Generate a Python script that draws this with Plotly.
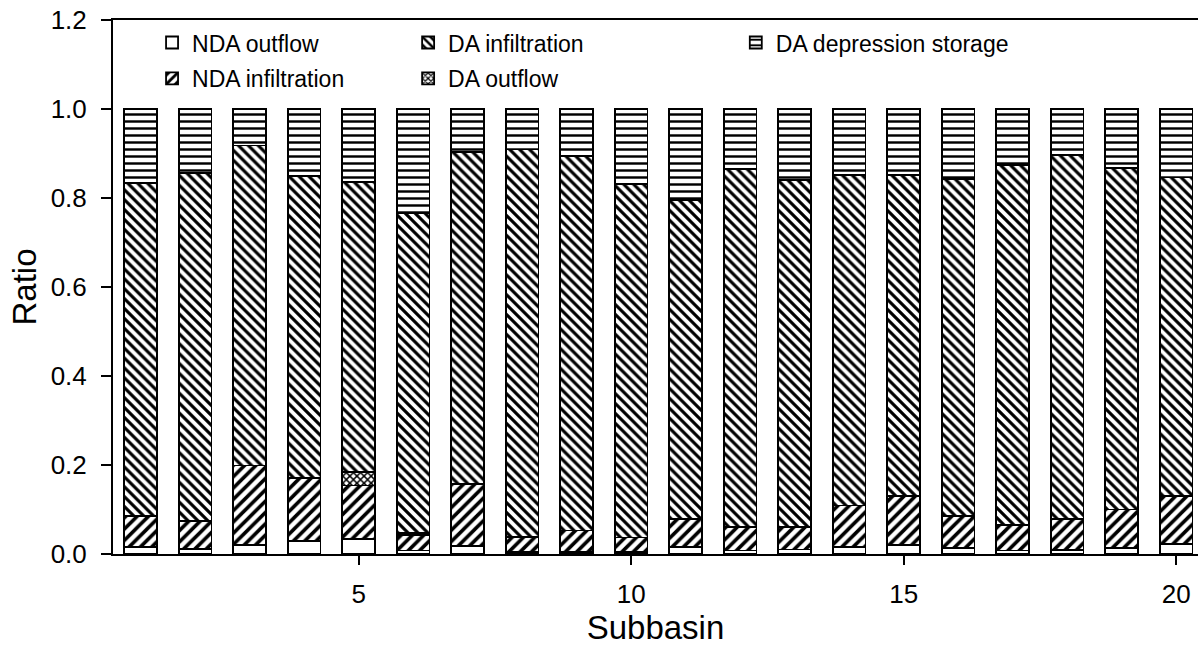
import plotly.graph_objects as go

subbasins = list(range(1, 21))
nda_outflow = [0.015, 0.011, 0.020, 0.029, 0.034, 0.008, 0.018, 0.005, 0.004, 0.005,
               0.016, 0.008, 0.010, 0.016, 0.021, 0.014, 0.008, 0.009, 0.014, 0.023]
nda_infiltration = [0.070, 0.063, 0.179, 0.141, 0.120, 0.034, 0.139, 0.034, 0.049, 0.032,
                    0.062, 0.053, 0.050, 0.093, 0.110, 0.071, 0.057, 0.069, 0.086, 0.108]
da_outflow = [0.0, 0.0, 0.0, 0.0, 0.030, 0.006, 0.0, 0.0, 0.0, 0.0,
              0.0, 0.0, 0.0, 0.0, 0.0, 0.0, 0.0, 0.0, 0.0, 0.0]
da_infiltration = [0.749, 0.783, 0.719, 0.679, 0.652, 0.718, 0.746, 0.870, 0.841, 0.794,
                   0.717, 0.805, 0.780, 0.742, 0.721, 0.757, 0.809, 0.818, 0.768, 0.715]
da_storage = [0.166, 0.143, 0.082, 0.151, 0.164, 0.234, 0.097, 0.091, 0.106, 0.169,
              0.205, 0.134, 0.160, 0.149, 0.148, 0.158, 0.126, 0.104, 0.132, 0.154]
x_ticks = [5, 10, 15, 20]
y_ticks = [0.0, 0.2, 0.4, 0.6, 0.8, 1.0, 1.2]

FONT = "Arial, Liberation Sans, sans-serif"

series = [
    ("NDA outflow", nda_outflow, "", 8, 0.4, "legend"),
    ("NDA infiltration", nda_infiltration, "/", 8, 0.45, "legend"),
    ("DA outflow", da_outflow, "x", 5, 0.5, "legend2"),
    ("DA infiltration", da_infiltration, "\\", 7, 0.45, "legend2"),
    ("DA depression storage", da_storage, "-", 7, 0.35, "legend3"),
]

fig = go.Figure()
for name, vals, shape, size, sol, leg in series:
    fig.add_trace(go.Bar(
        x=subbasins, y=vals, name=name, width=0.6,
        legend=leg, legendgroup=name,
        marker=dict(
            color="white",
            line=dict(color="black", width=1.8),
            pattern=dict(shape=shape, fgcolor="black", bgcolor="white",
                         size=size, solidity=sol, fillmode="overlay", fgopacity=1),
        ),
    ))

ranks = {"NDA outflow": 1, "NDA infiltration": 2, "DA infiltration": 1,
         "DA outflow": 2, "DA depression storage": 1}
for tr in fig.data:
    tr.legendrank = ranks[tr.name]

legend_common = dict(
    font=dict(family=FONT, size=23, color="black"),
    bgcolor="rgba(0,0,0,0)", borderwidth=0,
    orientation="v", xanchor="left", yanchor="top",
    tracegroupgap=3, itemclick=False, itemdoubleclick=False,
)

fig.update_layout(
    width=1198, height=650,
    margin=dict(l=113, r=0, t=20, b=96),
    paper_bgcolor="white", plot_bgcolor="white",
    barmode="stack",
    font=dict(family=FONT, color="black"),
    showlegend=True,
    legend=dict(x=0.036, y=0.998, **legend_common),
    legend2=dict(x=0.272, y=0.998, **legend_common),
    legend3=dict(x=0.574, y=0.998, **legend_common),
    xaxis=dict(
        range=[0.492, 20.40],
        tickmode="array", tickvals=x_ticks, ticktext=[str(v) for v in x_ticks],
        ticks="outside", ticklen=9, tickwidth=2, tickcolor="black",
        ticklabelstandoff=7,
        showline=True, linecolor="black", linewidth=2, mirror=True,
        showgrid=False, zeroline=False,
        tickfont=dict(family=FONT, size=26, color="black"),
        title=dict(text="Subbasin", font=dict(family=FONT, size=33, color="black"), standoff=8),
    ),
    yaxis=dict(
        range=[0, 1.2],
        tickmode="array", tickvals=y_ticks, ticktext=[f"{v:.1f}" for v in y_ticks],
        ticks="outside", ticklen=10, tickwidth=2, tickcolor="black",
        ticklabelstandoff=9,
        showline=True, linecolor="black", linewidth=2, mirror=False,
        showgrid=False, zeroline=False,
        tickfont=dict(family=FONT, size=26, color="black"),
        title=dict(text="Ratio", font=dict(family=FONT, size=33, color="black"), standoff=4),
    ),
)

fig.write_html("out.html")
